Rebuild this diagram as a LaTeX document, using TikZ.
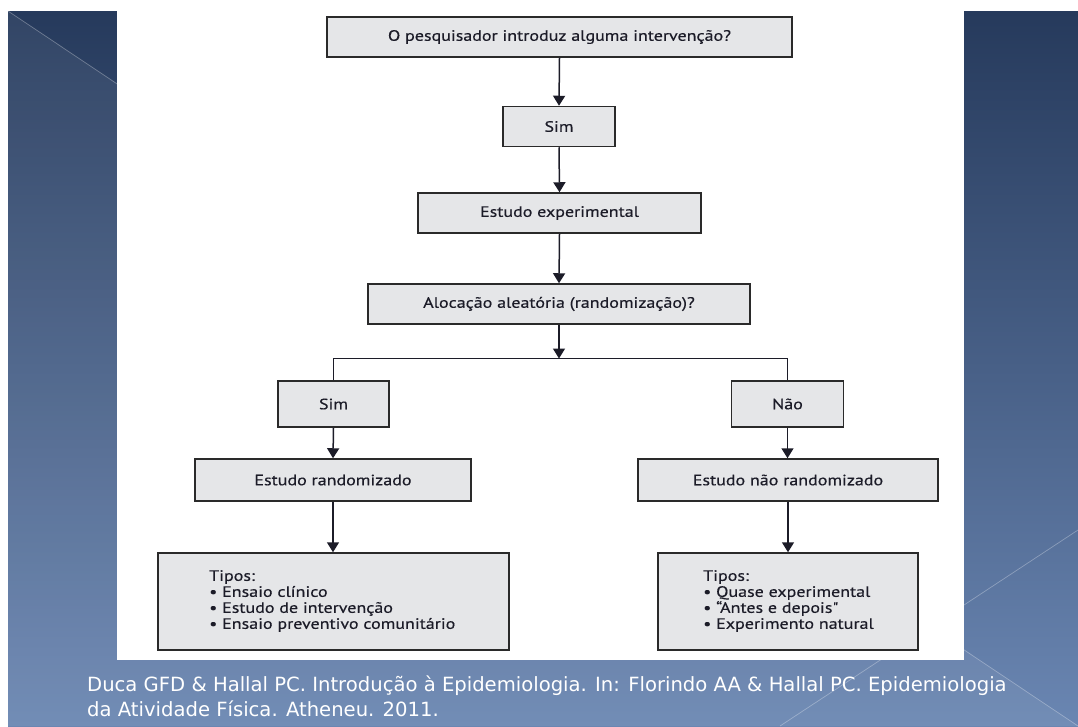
\documentclass[tikz,border=0pt]{standalone}
\usepackage{fontspec}
\usetikzlibrary{arrows.meta}
\newfontfamily\diagfont[FakeStretch=1.2,FakeBold=0.4]{PT Sans}
\newfontfamily\citefont{DejaVu Sans}
\definecolor{bgtop}{HTML}{263A5C}
\definecolor{bgmid}{HTML}{33507A}
\definecolor{bgbot}{HTML}{6A86B2}
\definecolor{boxfill}{HTML}{E5E6E8}
\definecolor{boxline}{HTML}{2A2A2A}
\definecolor{ink}{HTML}{1C1C28}
\begin{document}
\begin{tikzpicture}[x=1pt,y=-1pt,
  box/.style={draw=boxline, fill=boxfill, line width=1.5pt, inner sep=0pt,
    font=\diagfont\fontsize{15}{17}\selectfont, text=ink},
  list/.style={inner sep=0pt, align=left, text=ink,
    font=\diagfont\fontsize{15}{16}\selectfont},
  link/.style={draw=ink, line width=1.5pt},
  arrowlink/.style={link, -{Triangle[length=10pt,width=12pt]}},
  deco/.style={white, opacity=0.3, line width=0.7pt},
  citeline/.style={anchor=base west, inner sep=0pt, text=white,
    font=\citefont\fontsize{19.6}{24}\selectfont}]
% page and slide background
\useasboundingbox (0,0) rectangle (1078,726);
\fill[white] (0,0) rectangle (1078,726);
\shade[top color=bgtop, middle color=bgmid, bottom color=bgbot] (8,11) rectangle (1078,726);
\fill[white, opacity=0.06] (8,11) -- (1078,726) -- (8,726) -- cycle;
\draw[deco] (8,11) -- (1078,726);
\draw[deco] (780,726) -- (1078,530);
% white panel holding the flowchart
\fill[white] (117,0) rectangle (964,660);

% flowchart boxes
\node[box, minimum width=465, minimum height=40] (q1) at (559.5,37) {O pesquisador introduz alguma intervenção?};
\node[box, minimum width=112, minimum height=40] (s1) at (559,126.5) {Sim};
\node[box, minimum width=283, minimum height=40] (ee) at (559.5,213) {Estudo experimental};
\node[box, minimum width=382, minimum height=40] (al) at (559,304) {Alocação aleatória (randomização)?};
\coordinate (j) at (559,358.5);
\node[box, minimum width=111, minimum height=46] (s2) at (333.5,404) {Sim};
\node[box, minimum width=112, minimum height=46] (na) at (787.5,404) {Não};
\node[box, minimum width=276, minimum height=42] (er) at (333,480) {Estudo randomizado};
\node[box, minimum width=300, minimum height=42] (enr) at (788,480) {Estudo não randomizado};
\node[box, minimum width=351, minimum height=97] (tl) at (333.5,601.5) {};
\node[box, minimum width=260, minimum height=97] (tr) at (788,601.5) {};
\node[list, anchor=west] (tlt) at (209,601) {Tipos:\\• Ensaio clínico\\• Estudo de intervenção\\• Ensaio preventivo comunitário};
\node[list, anchor=west] (trt) at (703,601) {Tipos:\\• Quase experimental\\• “Antes e depois"\\• Experimento natural};

% connectors
\draw[arrowlink] (q1.south) -- (s1.north);
\draw[arrowlink] (s1.south) -- (ee.north);
\draw[arrowlink] (ee.south) -- (al.north);
\draw[arrowlink] (al.south) -- (j);
\draw[link] (s2.north) -- (s2.north |- j) -- (na.north |- j) -- (na.north);
\draw[arrowlink] (s2.south) -- (er.north);
\draw[arrowlink] (na.south) -- (na.south |- enr.north);
\draw[arrowlink] (er.south) -- (er.south |- tl.north);
\draw[arrowlink] (enr.south) -- (tr.north);

% reference lines
\node[citeline] (cite1) at (87,691) {Duca GFD \& Hallal PC. Introdução à Epidemiologia. In: Florindo AA \& Hallal PC. Epidemiologia};
\node[citeline] (cite2) at (87,716) {da Atividade Física. Atheneu. 2011.};
\end{tikzpicture}
\end{document}
